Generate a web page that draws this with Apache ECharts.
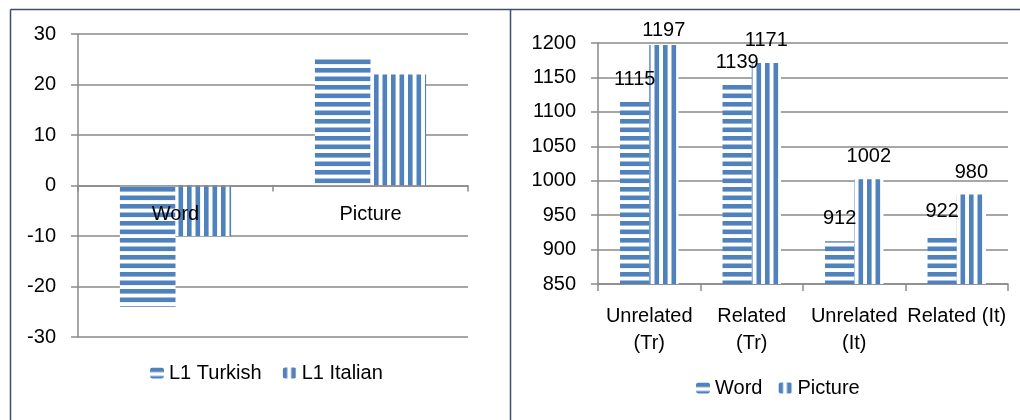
<!DOCTYPE html>
<html>
<head>
<meta charset="utf-8">
<script src="https://cdn.jsdelivr.net/npm/echarts@6/dist/echarts.min.js"></script>
<style>
html,body{margin:0;padding:0;background:#fff;}
#chart{width:1020px;height:420px;}
</style>
</head>
<body>
<div id="chart"></div>
<script>
// ---- data ----
const leftCategories = ['Word', 'Picture'];
const l1Turkish = [-24, 25.5];
const l1Italian = [-10, 22];
const rightCategories = ['Unrelated\n(Tr)', 'Related\n(Tr)', 'Unrelated\n(It)', 'Related (It)'];
const wordRT = [1115, 1139, 912, 922];
const pictureRT = [1197, 1171, 1002, 980];
const leftSeriesNames = ['L1 Turkish', 'L1 Italian'];
const rightSeriesNames = ['Word', 'Picture'];

// ---- styles ----
const BLUE = '#4f81bd';
const GRID = '#8a8a8a';
const FONT = "'Liberation Sans', Arial, sans-serif";
const FS = 20;

function stripes(horizontal) {
  const c = document.createElement('canvas');
  c.width = 17; c.height = 17;
  const g = c.getContext('2d');
  g.fillStyle = '#ffffff';
  g.fillRect(0, 0, 17, 17);
  g.fillStyle = BLUE;
  if (horizontal) {
    g.fillRect(0, 0, 17, 4.6);
    g.fillRect(0, 8.5, 17, 4.6);
  } else {
    g.fillRect(0, 0, 4.6, 17);
    g.fillRect(8.5, 0, 4.6, 17);
  }
  return { image: c, repeat: 'repeat' };
}
const H = stripes(true);
const V = stripes(false);

const chart = echarts.init(document.getElementById('chart'), null, { renderer: 'canvas' });

const axisText = { color: '#000', fontFamily: FONT, fontSize: FS };
const plain = v => String(v);

const option = {
  animation: false,
  backgroundColor: '#fff',
  textStyle: { fontFamily: FONT },
  graphic: [
    { type: 'line', shape: { x1: 10.5, y1: 9.5, x2: 1020, y2: 9.5 }, style: { stroke: '#3d4d6b', lineWidth: 1.5 } },
    { type: 'line', shape: { x1: 10.5, y1: 9.5, x2: 10.5, y2: 420 }, style: { stroke: '#3d4d6b', lineWidth: 1.5 } },
    { type: 'line', shape: { x1: 510.5, y1: 9.5, x2: 510.5, y2: 420 }, style: { stroke: '#3d4d6b', lineWidth: 1.5 } }
  ],
  grid: [
    { left: 78, right: 552, top: 34, bottom: 83 },
    { left: 598, right: 12, top: 43, bottom: 136 }
  ],
  legend: [
    {
      data: leftSeriesNames, left: 150, top: 363, padding: 0,
      itemWidth: 14, itemHeight: 11, itemGap: 21,
      textStyle: { color: '#000', fontFamily: FONT, fontSize: FS }
    },
    {
      data: rightSeriesNames, left: 696, top: 378, padding: 0,
      itemWidth: 14, itemHeight: 11, itemGap: 16,
      textStyle: { color: '#000', fontFamily: FONT, fontSize: FS }
    }
  ],
  xAxis: [
    {
      type: 'category', gridIndex: 0, data: leftCategories, z: 5,
      offset: -151.5,
      axisLine: { onZero: false, lineStyle: { color: GRID, width: 1.5 } },
      axisTick: { show: true, length: 6, lineStyle: { color: GRID, width: 1.5 } },
      axisLabel: Object.assign({ margin: 19, interval: 0 }, axisText)
    },
    {
      type: 'category', gridIndex: 1, data: rightCategories,
      axisLine: { lineStyle: { color: GRID, width: 1.5 } },
      axisTick: { show: true, length: 7, lineStyle: { color: GRID, width: 1.5 } },
      axisLabel: Object.assign({ margin: 19, lineHeight: 27, interval: 0 }, axisText)
    }
  ],
  yAxis: [
    {
      type: 'value', gridIndex: 0, min: -30, max: 30, interval: 10,
      axisLine: { show: true, lineStyle: { color: GRID, width: 1.5 } },
      axisTick: { show: true, length: 7, lineStyle: { color: GRID, width: 1.5 } },
      splitLine: { lineStyle: { color: GRID, width: 1.5 } },
      axisLabel: Object.assign({ margin: 22, formatter: plain }, axisText)
    },
    {
      type: 'value', gridIndex: 1, min: 850, max: 1200, interval: 50,
      axisLine: { show: true, lineStyle: { color: GRID, width: 1.5 } },
      axisTick: { show: true, length: 7, lineStyle: { color: GRID, width: 1.5 } },
      splitLine: { lineStyle: { color: GRID, width: 1.5 } },
      axisLabel: Object.assign({ margin: 22, formatter: plain }, axisText)
    }
  ],
  series: [
    {
      name: leftSeriesNames[0], type: 'bar', xAxisIndex: 0, yAxisIndex: 0,
      data: l1Turkish, barGap: '0%', barCategoryGap: '43%',
      itemStyle: { color: H }
    },
    {
      name: leftSeriesNames[1], type: 'bar', xAxisIndex: 0, yAxisIndex: 0,
      data: l1Italian, barGap: '0%', barCategoryGap: '43%',
      itemStyle: { color: V }
    },
    {
      name: rightSeriesNames[0], type: 'bar', xAxisIndex: 1, yAxisIndex: 1,
      data: wordRT, barGap: '0%', barCategoryGap: '43%',
      itemStyle: { color: H },
      label: { show: true, position: 'top', distance: 12.5, color: '#000', fontFamily: FONT, fontSize: FS }
    },
    {
      name: rightSeriesNames[1], type: 'bar', xAxisIndex: 1, yAxisIndex: 1,
      data: pictureRT.map((v, i) => i === 0 ? { value: v, label: { offset: [0, 8] } } : v),
      barGap: '0%', barCategoryGap: '43%',
      itemStyle: { color: V },
      label: { show: true, position: 'top', distance: 12.5, color: '#000', fontFamily: FONT, fontSize: FS }
    }
  ]
};
chart.setOption(option);
</script>
</body>
</html>
